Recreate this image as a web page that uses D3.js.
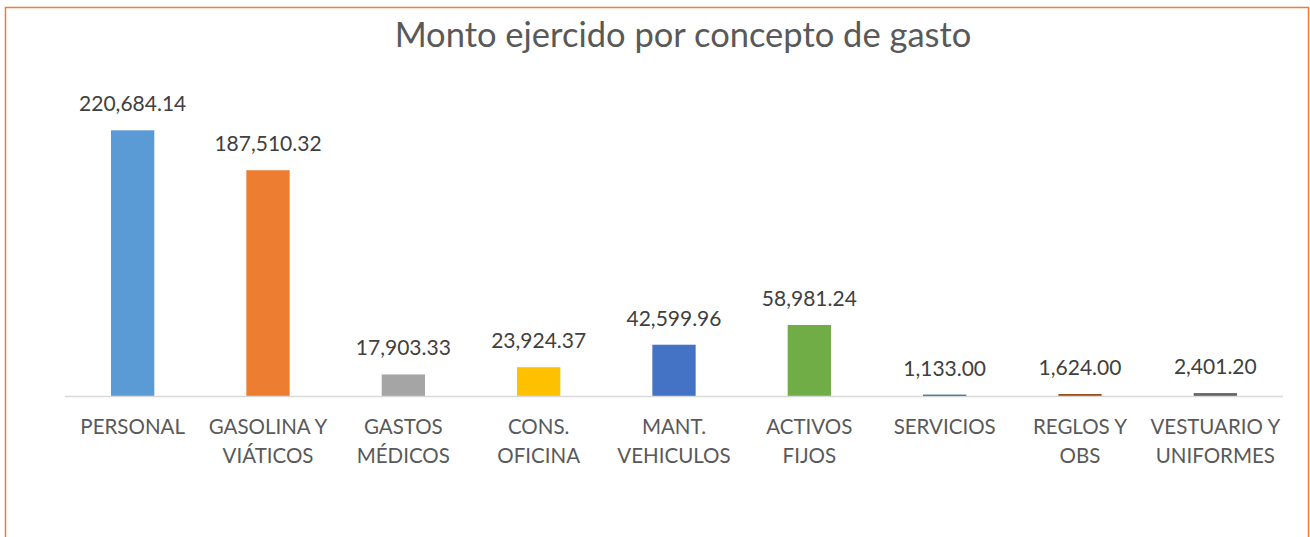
<!DOCTYPE html>
<html>
<head>
<meta charset="utf-8">
<script src="https://cdn.jsdelivr.net/npm/d3@7"></script>
<style>
  body { margin: 0; background: #fff; }
  text { font-family: Lato, "Open Sans", sans-serif; }
</style>
</head>
<body>
<div id="chart"></div>
<script>
const categories = ["PERSONAL", "GASOLINA Y VIÁTICOS", "GASTOS MÉDICOS", "CONS. OFICINA", "MANT. VEHICULOS",
  "ACTIVOS FIJOS", "SERVICIOS", "REGLOS Y OBS", "VESTUARIO Y UNIFORMES"];
const categoryLines = [["PERSONAL"], ["GASOLINA Y", "VIÁTICOS"], ["GASTOS", "MÉDICOS"], ["CONS.", "OFICINA"],
  ["MANT.", "VEHICULOS"], ["ACTIVOS", "FIJOS"], ["SERVICIOS"], ["REGLOS Y", "OBS"], ["VESTUARIO Y", "UNIFORMES"]];
const values = [220684.14, 187510.32, 17903.33, 23924.37, 42599.96, 58981.24, 1133.00, 1624.00, 2401.20];
const colors = ["#5B9BD5", "#ED7D31", "#A5A5A5", "#FFC000", "#4472C4", "#70AD47", "#255E91", "#9E480E", "#636363"];
const title = "Monto ejercido por concepto de gasto";

let width = 1310,
    height = 537,
    margin = ({ top: 95, right: 27, bottom: 141, left: 65 });

const svg = d3.select("#chart")
  .append("svg")
  .attr("width", width)
  .attr("height", height);

// orange frame (bottom edge is cut off in the original)
svg.append("path")
  .attr("d", `M5.5,${height} V7.5 H1308.5 V${height}`)
  .attr("fill", "none")
  .attr("stroke", "#ED7D31")
  .attr("stroke-width", 1.5);

svg.append("text")
  .attr("x", 683)
  .attr("y", 47)
  .attr("text-anchor", "middle")
  .attr("font-size", 34.5)
  .attr("fill", "#595959")
  .text(title);

let x = d3.scaleBand()
  .domain(categories)
  .range([margin.left, width - margin.right])
  .paddingInner(0.68)
  .paddingOuter(0.34);

let y = d3.scaleLinear()
  .domain([0, 250000])
  .range([height - margin.bottom, margin.top]);

let fmt = d3.format(",.2f");

svg.selectAll("rect.bar")
  .data(values)
  .join("rect")
  .attr("class", "bar")
  .attr("x", (d, i) => x(categories[i]))
  .attr("y", d => y(d))
  .attr("width", x.bandwidth())
  .attr("height", d => y(0) - y(d))
  .attr("fill", (d, i) => colors[i]);

// baseline
svg.append("line")
  .attr("x1", margin.left)
  .attr("x2", width - margin.right)
  .attr("y1", y(0) + 0.5)
  .attr("y2", y(0) + 0.5)
  .attr("stroke", "#D9D9D9")
  .attr("stroke-width", 1.5);

svg.selectAll("text.val")
  .data(values)
  .join("text")
  .attr("class", "val")
  .attr("x", (d, i) => x(categories[i]) + x.bandwidth() / 2)
  .attr("y", d => y(d) - 19)
  .attr("text-anchor", "middle")
  .attr("font-size", 21)
  .attr("fill", "#404040")
  .text(d => fmt(d));

categoryLines.forEach((lines, i) => {
  let t = svg.append("text")
    .attr("x", x(categories[i]) + x.bandwidth() / 2)
    .attr("y", y(0) + 38)
    .attr("text-anchor", "middle")
    .attr("font-size", 20.5)
    .attr("fill", "#595959");
  lines.forEach((l, j) => {
    t.append("tspan")
      .attr("x", x(categories[i]) + x.bandwidth() / 2)
      .attr("dy", j === 0 ? 0 : 29)
      .text(l);
  });
});
</script>
</body>
</html>
